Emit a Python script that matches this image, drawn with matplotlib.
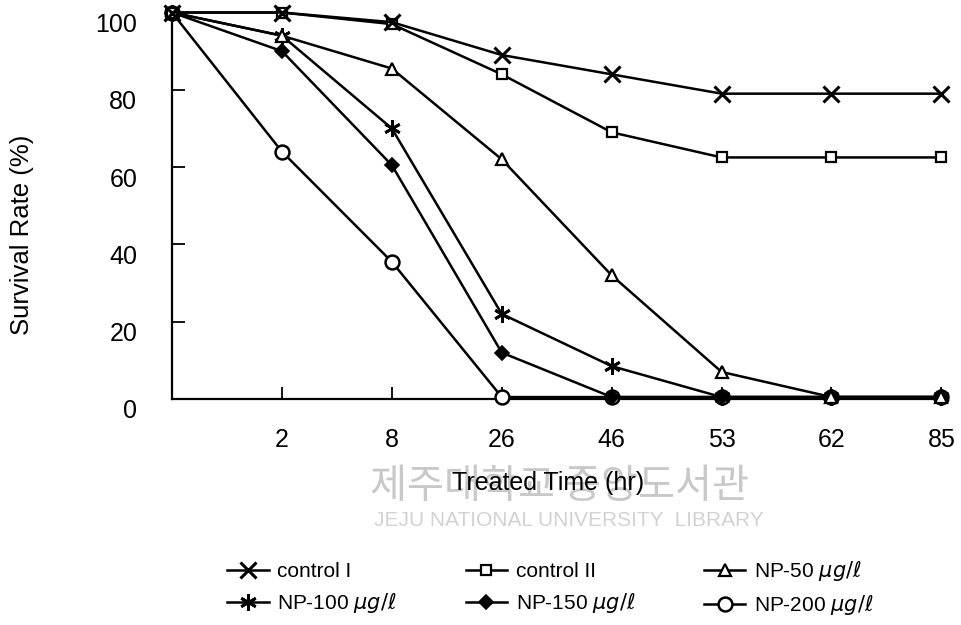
import matplotlib
matplotlib.use("Agg")
import matplotlib.pyplot as plt
import matplotlib.transforms as mtransforms

plt.rcParams["font.family"] = ["Liberation Sans", "DejaVu Sans"]

# treated time categories (first point is the untreated start, unlabeled)
time_labels = ["", "2", "8", "26", "46", "53", "62", "85"]

control_1 = [100, 100, 97.5, 89, 84, 79, 79, 79]
control_2 = [100, 100, 97, 84, 69, 62.5, 62.5, 62.5]
np_50 = [100, 94, 85.5, 62, 32, 7, 0.5, 0.5]
np_100 = [100, 94, 70, 22, 8.5, 0.5, 0.5, 0.5]
np_150 = [100, 90, 60.5, 12, 0.5, 0.5, 0.5, 0.5]
np_200 = [100, 64, 35.5, 0.5, 0.5, 0.5, 0.5, 0.5]

series = [
    ("control I", control_1, dict(marker="x", ms=11, mew=2.2, mfc="none")),
    ("control II", control_2, dict(marker="s", ms=7, mew=1.6, mfc="white")),
    (r"NP-50 $\mu g/\ell$", np_50, dict(marker="^", ms=8, mew=1.6, mfc="white")),
    (r"NP-100 $\mu g/\ell$", np_100, dict(marker=(6, 2, 0), ms=12, mew=2.0)),
    (r"NP-150 $\mu g/\ell$", np_150, dict(marker="D", ms=7, mew=1.2, mfc="black")),
    (r"NP-200 $\mu g/\ell$", np_200, dict(marker="o", ms=10, mew=1.8, mfc="white")),
]

fig = plt.figure(figsize=(9.62, 6.25), dpi=100)
ax = fig.add_axes([0.1788, 0.3616, 0.7998, 0.6184])

xs = list(range(len(time_labels)))
handles = {}
# later series drawn first so the overlapping zeros read as filled marks
for i, (label, ys, style) in enumerate(series):
    h, = ax.plot(xs, ys, color="black", lw=1.8, mec="black", clip_on=False,
                 label=label, zorder=10 - i, **style)
    handles[label] = h

ax.set_xlim(0, len(xs) - 1)
ax.set_ylim(0, 100)
ax.set_xticks(xs[1:])
ax.set_xticklabels(time_labels[1:])
ax.set_yticks([0, 20, 40, 60, 80, 100])
ax.tick_params(axis="both", direction="in", length=9, width=1.3, labelsize=18)
ax.tick_params(axis="x", pad=21)
ax.tick_params(axis="y", pad=25)
# y labels in the original sit a little below their ticks
off = mtransforms.ScaledTranslation(0, -10 / 100, fig.dpi_scale_trans)
for t in ax.get_yticklabels():
    t.set_transform(t.get_transform() + off)

for side in ("top", "right"):
    ax.spines[side].set_visible(False)
for side in ("left", "bottom"):
    ax.spines[side].set_linewidth(1.6)

fig.text(0.023, 0.624, "Survival Rate (%)", rotation=90, ha="center", va="center",
         fontsize=18.5)

# library watermark
fig.text(0.582, 0.221, "제주대학교 중앙도서관", ha="center", va="center", fontsize=29,
         color="#c8c8c8", family=["Noto Sans CJK KR", "DejaVu Sans"], zorder=0)
fig.text(0.591, 0.168, "JEJU NATIONAL UNIVERSITY  LIBRARY", ha="center", va="center",
         fontsize=15, color="#d2d2d2", zorder=0)

fig.text(0.57, 0.227, "Treated Time (hr)", ha="center", va="center", fontsize=18)

# row-major order for a 3-column legend (matplotlib fills by column)
order = ["control I", r"NP-100 $\mu g/\ell$", "control II", r"NP-150 $\mu g/\ell$",
         r"NP-50 $\mu g/\ell$", r"NP-200 $\mu g/\ell$"]
fig.legend(handles=[handles[k] for k in order], loc="center", ncol=3, frameon=False,
           fontsize=15, bbox_to_anchor=(0.572, 0.059), handlelength=2.0,
           handletextpad=0.4, columnspacing=3.3, labelspacing=0.5)

fig.savefig("out.png", dpi=100)
